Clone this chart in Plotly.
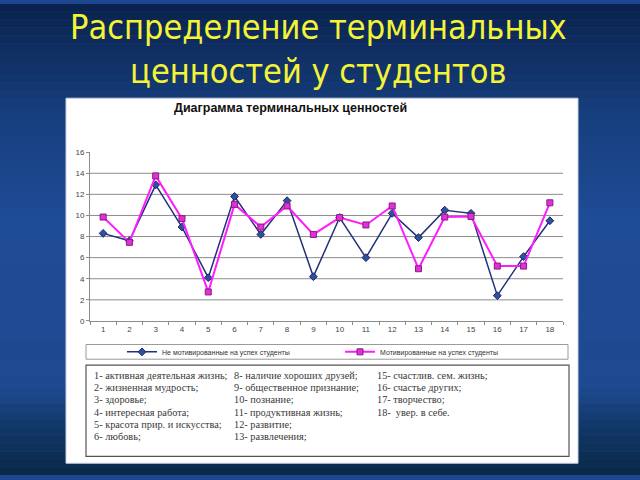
import plotly.graph_objects as go

# ---------------- data ----------------
categories = [str(i) for i in range(1, 19)]
not_motivated = [8.3, 7.6, 12.9, 8.9, 4.1, 11.8, 8.2, 11.4, 4.2, 9.8, 6.0, 10.2, 7.9, 10.5, 10.2, 2.4, 6.1, 9.5]
motivated = [9.85, 7.45, 13.75, 9.7, 2.75, 11.05, 8.9, 10.9, 8.2, 9.8, 9.1, 10.9, 4.95, 9.85, 9.9, 5.2, 5.2, 11.2]
series_names = ["Не мотивированные на успех студенты", "Мотивированные на успех студенты"]
y_ticks = list(range(0, 17, 2))
grid_vals = [2, 4, 6, 8, 10, 12, 14]

slide_title = "Распределение терминальных<br>ценностей у студентов"
chart_title = "Диаграмма терминальных ценностей"

key_col1 = ["1- активная деятельная жизнь;", "2- жизненная мудрость;", "3- здоровье;",
            "4- интересная работа;", "5- красота прир. и искусства;", "6- любовь;"]
key_col2 = ["8- наличие хороших друзей;", "9- общественное признание;", "10- познание;",
            "11- продуктивная жизнь;", "12- развитие;", "13- развлечения;"]
key_col3 = ["15- счастлив. сем. жизнь;", "16- счастье других;", "17- творчество;",
            "18-  увер. в себе."]

W, H = 640, 480


def px(x):
    return x / W


def py(y):
    return 1 - y / H


fig = go.Figure()

fig.add_trace(go.Scatter(
    x=categories, y=not_motivated, name=series_names[0], mode="lines+markers",
    line=dict(color="#23307a", width=1.5),
    marker=dict(symbol="diamond", size=6, color="#2f4fa0", line=dict(color="#1a2560", width=1)),
    legend="legend",
))
fig.add_trace(go.Scatter(
    x=categories, y=motivated, name=series_names[1], mode="lines+markers",
    line=dict(color="#ff1cff", width=2),
    marker=dict(symbol="square", size=6, color="#e030d8", line=dict(color="#8a1a80", width=1)),
    legend="legend2",
))

shapes = []
# background gradient bands
stops = [(0, (10, 34, 76)), (110, (22, 62, 125)), (220, (31, 76, 150)),
         (390, (30, 74, 145)), (435, (16, 54, 100)), (480, (9, 40, 70))]


def col_at(y):
    for (y0, c0), (y1, c1) in zip(stops[:-1], stops[1:]):
        if y0 <= y <= y1:
            t = (y - y0) / (y1 - y0)
            return "rgb(%d,%d,%d)" % tuple(round(a + (b - a) * t) for a, b in zip(c0, c1))
    return "rgb(%d,%d,%d)" % stops[-1][1]


band = 8
for y in range(0, H, band):
    shapes.append(dict(type="rect", xref="paper", yref="paper", x0=0, x1=1,
                       y0=py(y + band), y1=py(y), fillcolor=col_at(y + band / 2),
                       line=dict(width=0), layer="below"))
# white panel
shapes.append(dict(type="rect", xref="paper", yref="paper", x0=px(66), x1=px(578),
                   y0=py(468), y1=py(96), fillcolor="white", line=dict(color="#c8d0e0", width=1),
                   layer="below"))
# grid lines
for g in grid_vals:
    shapes.append(dict(type="line", xref="x domain", yref="y", x0=0, x1=1, y0=g, y1=g,
                       line=dict(color="#8c8c8c", width=1), layer="below"))
# legend box
shapes.append(dict(type="rect", xref="paper", yref="paper", x0=px(86), x1=px(568),
                   y0=py(362), y1=py(347), line=dict(color="#9a9a9a", width=1), fillcolor="rgba(0,0,0,0)"))
# key text box
shapes.append(dict(type="rect", xref="paper", yref="paper", x0=px(86), x1=px(569),
                   y0=py(461), y1=py(368), line=dict(color="#555555", width=1.2), fillcolor="rgba(0,0,0,0)"))

annotations = [
    dict(text=slide_title, x=px(318), y=py(46), xref="paper", yref="paper", showarrow=False,
         xanchor="center", yanchor="middle",
         font=dict(family="DejaVu Sans Condensed, DejaVu Sans", size=34, color="#f4f435")),
    dict(text="<b>%s</b>" % chart_title, x=px(290), y=py(106), xref="paper", yref="paper",
         showarrow=False, xanchor="center", yanchor="middle",
         font=dict(family="Liberation Sans", size=12.5, color="#111111")),
]

row_y = [379, 391, 403, 416, 429, 441]
col_x = [92, 232, 375]
for ci, col in enumerate([key_col1, key_col2, key_col3]):
    for ri, txt in enumerate(col):
        annotations.append(dict(text=txt, x=px(col_x[ci]), y=py(row_y[ri]), xref="paper", yref="paper",
                                showarrow=False, xanchor="left", yanchor="middle",
                                font=dict(family="Liberation Serif", size=10.3, color="#3a3a3a")))

legend_common = dict(orientation="h", yanchor="middle", xanchor="left",
                     font=dict(family="Liberation Sans", size=7, color="#333333"),
                     bgcolor="rgba(0,0,0,0)", itemwidth=30)

fig.update_layout(
    width=W, height=H, margin=dict(l=0, r=0, t=0, b=0),
    paper_bgcolor="#1d4690", plot_bgcolor="rgba(0,0,0,0)",
    shapes=shapes, annotations=annotations,
    showlegend=True,
    legend=dict(x=px(122), y=py(354.5), **legend_common),
    legend2=dict(x=px(340), y=py(354.5), **legend_common),
    xaxis=dict(domain=[px(90), px(563)], type="category", range=[-0.5, 17.5],
               showgrid=False, showline=True, linecolor="#8c8c8c", linewidth=1,
               ticks="outside", tickson="boundaries", ticklen=3, tickcolor="#8c8c8c",
               tickfont=dict(family="Liberation Sans", size=8, color="#444444"), zeroline=False),
    yaxis=dict(domain=[py(323), py(151)], range=[0, 16], tickvals=y_ticks,
               showgrid=False, showline=True, linecolor="#8c8c8c", linewidth=1,
               ticks="outside", ticklen=3, tickcolor="#8c8c8c",
               tickfont=dict(family="Liberation Sans", size=8, color="#444444"), zeroline=False),
)

fig.write_html("out.html")
